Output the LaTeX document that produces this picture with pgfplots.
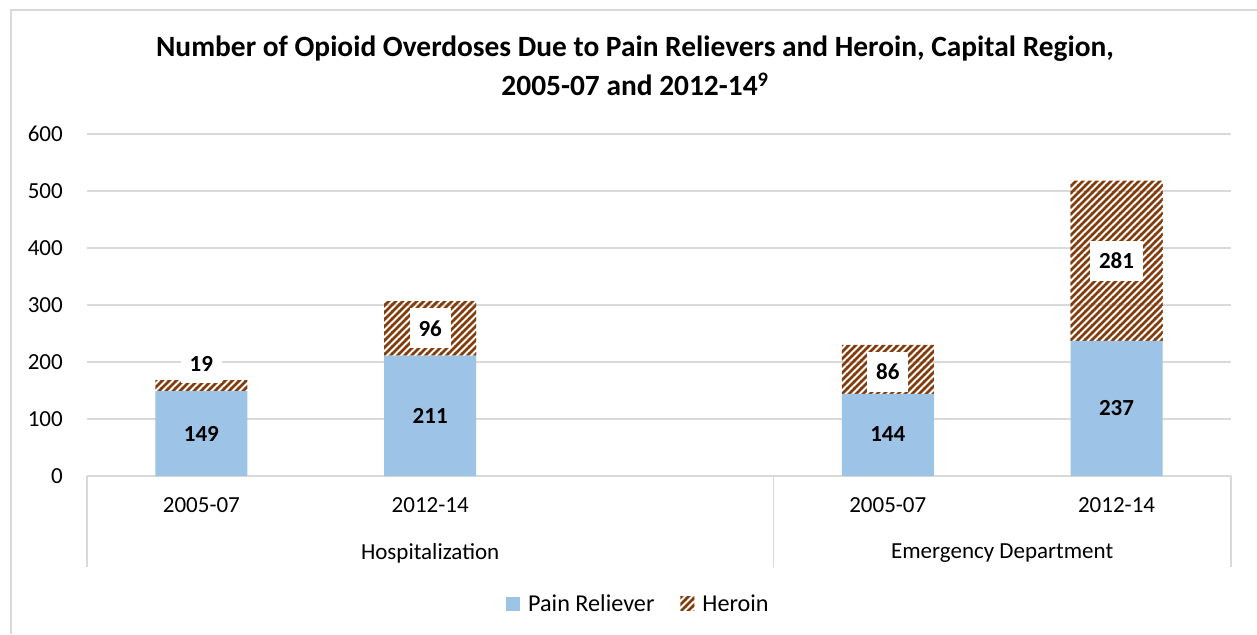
\documentclass[border=0pt]{standalone}
\usepackage{fontspec}
\setmainfont{Carlito}
\usepackage{pgfplots}
\pgfplotsset{compat=1.18}
\usetikzlibrary{patterns}
\definecolor{painblue}{HTML}{9DC3E6}
\definecolor{heroinbrown}{HTML}{843C0C}
\definecolor{gridgray}{HTML}{D9D9D9}
\newcommand\lbl{\fontsize{23}{27}\selectfont}
\newcommand\legfont{\fontsize{24.2}{28}\selectfont}
\newcommand\blbl{\fontsize{23}{27}\selectfont\bfseries}
\newcommand\tfont{\fontsize{29.4}{35}\selectfont\bfseries}
\pgfdeclarepatternformonly{wideNE}{\pgfqpoint{-1pt}{-1pt}}{\pgfqpoint{8pt}{8pt}}{\pgfqpoint{7pt}{7pt}}{%
  \pgfsetlinewidth{2.5pt}%
  \pgfpathmoveto{\pgfqpoint{-1pt}{-1pt}}%
  \pgfpathlineto{\pgfqpoint{8pt}{8pt}}%
  \pgfusepath{stroke}}
\tikzset{dlab/.style={font=\blbl, inner sep=0pt},
  hlab/.style={font=\blbl, fill=white, inner xsep=9pt, inner ysep=12pt}}
\begin{document}
\begin{tikzpicture}
\useasboundingbox (0,0) rectangle (1257pt,634pt);
\fill[white] (0,0) rectangle (1257pt,634pt);
\draw[gridgray, line width=1.5pt] (11pt,0) -- (11pt,624pt) -- (1257pt,624pt);
\node[font=\tfont, anchor=base] at (635pt,577pt)
  {Number of Opioid Overdoses Due to Pain Relievers and Heroin, Capital Region,};
\node[font=\tfont, anchor=base] at (635pt,538pt)
  {2005-07 and 2012-14\textsuperscript{9}};
\begin{axis}[
  at={(87pt,158pt)}, anchor=south west,
  scale only axis, width=1144pt, height=342pt,
  ybar stacked, bar width=92pt,
  xmin=-0.5, xmax=4.5, ymin=0, ymax=600,
  ytick={0,100,200,300,400,500,600},
  yticklabels={0,100,200,300,400,500,600},
  xtick={0,1,3,4},
  xticklabels={2005-07,2012-14,2005-07,2012-14},
  ymajorgrids, major grid style={gridgray, line width=1.5pt},
  axis line style={draw=none}, tick style={draw=none},
  ticklabel style={font=\lbl},
  yticklabel style={inner sep=0pt, anchor=east, xshift=-24pt},
  xticklabel style={inner sep=0pt, anchor=center, yshift=-29pt},
  clip=false,
  legend style={at={(0.482,-0.374)}, anchor=center, draw=none, legend columns=2,
    font=\legfont, inner sep=0pt,
    /tikz/every odd column/.append style={column sep=6pt},
    /tikz/every even column/.append style={column sep=24pt}},
  legend image code/.code={\path[#1, draw=none] (0pt,-7pt) rectangle (14pt,7pt);},
]
\addplot[fill=painblue, draw=none] coordinates {(0,149) (1,211) (3,144) (4,237)};
\addplot[draw=none, pattern=wideNE, pattern color=heroinbrown]
  coordinates {(0,19) (1,96) (3,86) (4,281)};
\legend{Pain Reliever, Heroin}
\draw[gridgray, line width=1.5pt] (axis cs:-0.5,0) -- ++(0pt,-91pt);
\draw[gridgray, line width=1.5pt] (axis cs:2.5,0) -- ++(0pt,-91pt);
\draw[gridgray, line width=1.5pt] (axis cs:4.5,0) -- ++(0pt,-91pt);
\node[font=\lbl, yshift=-77pt] at (axis cs:1,0) {Hospitalization};
\node[font=\lbl, yshift=-77pt] at (axis cs:3.5,0) {Emergency Department};
\coordinate (pA) at (axis cs:0,74.5);
\coordinate (pB) at (axis cs:1,105.5);
\coordinate (pC) at (axis cs:3,72.8);
\coordinate (pD) at (axis cs:4,118.5);
\coordinate (hA) at (axis cs:0,197);
\coordinate (hB) at (axis cs:1,259);
\coordinate (hC) at (axis cs:3,183);
\coordinate (hD) at (axis cs:4,377.5);
\end{axis}
\node[dlab] at (pA) {149};
\node[dlab] at (pB) {211};
\node[dlab] at (pC) {144};
\node[dlab] at (pD) {237};
\node[hlab] at (hA) {19};
\node[hlab] at (hB) {96};
\node[hlab] at (hC) {86};
\node[hlab] at (hD) {281};
\end{tikzpicture}
\end{document}
